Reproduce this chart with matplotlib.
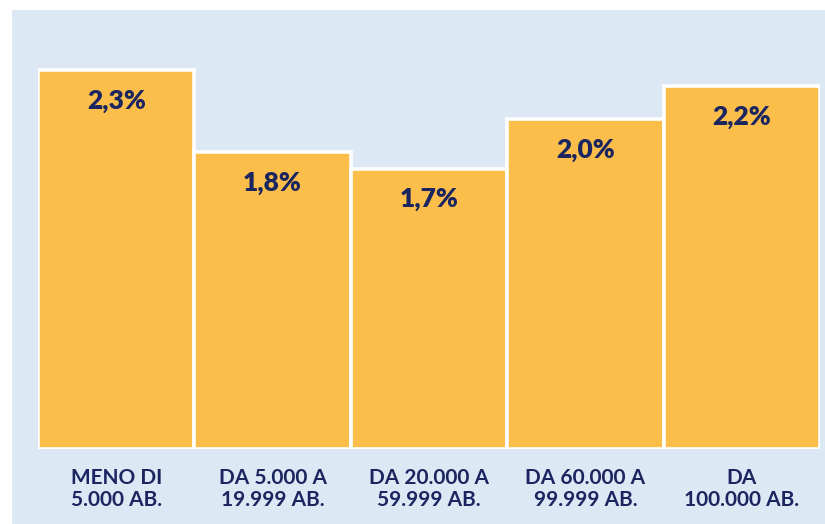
import matplotlib.pyplot as plt
from matplotlib.patches import Rectangle

# Data
categories = [
    "MENO DI\n5.000 AB.",
    "DA 5.000 A\n19.999 AB.",
    "DA 20.000 A\n59.999 AB.",
    "DA 60.000 A\n99.999 AB.",
    "DA\n100.000 AB.",
]
values = [2.3, 1.8, 1.7, 2.0, 2.2]
value_labels = ["2,3%", "1,8%", "1,7%", "2,0%", "2,2%"]

bar_color = "#FBBE4B"
bg_color = "#DDE8F5"
text_color = "#1B2560"

plt.rcParams['font.family'] = ['Lato', 'DejaVu Sans']

fig = plt.figure(figsize=(8.25, 5.24), dpi=100)
fig.patch.set_facecolor("white")

# light blue panel behind the chart
panel = Rectangle((12 / 825, 0), 1 - 12 / 825, 1 - 10 / 524,
                  transform=fig.transFigure, facecolor=bg_color,
                  edgecolor="none", zorder=-5)
fig.add_artist(panel)

ax = fig.add_axes([38 / 825, 75 / 524, 782 / 825, 439 / 524])
ax.set_facecolor("none")
ax.set_zorder(2)

x = list(range(len(values)))
ax.bar(x, values, width=1.0, color=bar_color, edgecolor="white",
       linewidth=2.6, zorder=2)

for xi, v, lab in zip(x, values, value_labels):
    ax.annotate(lab, (xi, v), xytext=(0, -22), textcoords="offset points",
                ha="center", va="center", fontsize=19, fontweight="heavy",
                color=text_color, zorder=3)

ax.set_xlim(-0.5, len(values) - 0.5)
ax.set_ylim(0, 2.664)
ax.set_xticks(x)
ax.set_xticklabels(categories, fontsize=15, fontweight="bold", color=text_color,
                   linespacing=1.12)
ax.tick_params(axis="x", length=0, pad=14)
ax.set_yticks([])
for s in ax.spines.values():
    s.set_visible(False)

plt.savefig("out.png", dpi=100)
